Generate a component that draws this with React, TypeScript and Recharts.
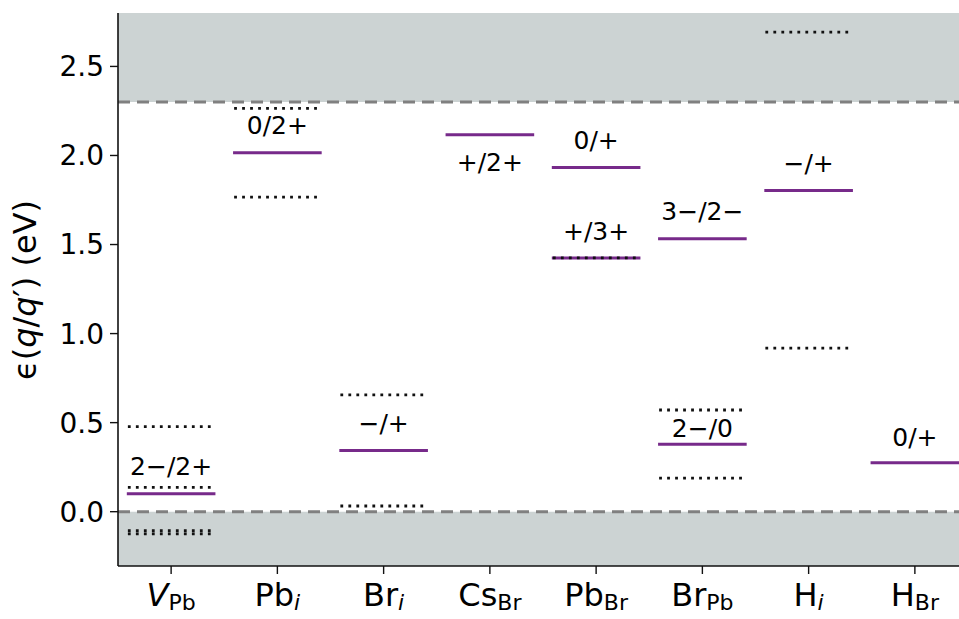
import { ComposedChart, XAxis, YAxis, ReferenceArea, ReferenceLine, ReferenceDot } from 'recharts';

// defect names, split into main symbol and subscript
const defectMain = ['V', 'Pb', 'Br', 'Cs', 'Pb', 'Br', 'H', 'H'];
const defectSub = ['Pb', 'i', 'i', 'Br', 'Br', 'Pb', 'i', 'Br'];
const mainItalic = [true, false, false, false, false, false, false, false];
const subItalic = [false, true, true, false, false, false, true, false];

// charge transition levels (eV) and their labels
const levelDefect = [0, 1, 2, 3, 4, 4, 5, 5, 6, 7];
const levelEnergy = [0.1, 2.015, 0.343, 2.116, 1.933, 1.425, 1.532, 0.379, 1.803, 0.275];
const levelLabel = ['2−/2+', '0/2+', '−/+', '+/2+', '0/+', '+/3+', '3−/2−', '2−/0', '−/+', '0/+'];
const labelEnergy = [0.253, 2.172, 0.497, 1.963, 2.084, 1.577, 1.685, 0.469, 1.957, 0.421];

// single-particle (dotted) levels
const ksDefect = [0, 0, 0, 0, 1, 1, 2, 2, 4, 5, 5, 6, 6];
const ksEnergy = [0.478, 0.137, -0.107, -0.125, 2.264, 1.766, 0.656, 0.032, 1.425, 0.571, 0.188, 2.693, 0.918];

const vbm = 0;
const cbm = 2.3;
const yTicks = [0, 0.5, 1.0, 1.5, 2.0, 2.5];
const yMin = -0.305;
const yMax = 2.8;

const FONT = 'DejaVu Sans';
const PURPLE = '#772a8a';
const HALF = 0.417;

const data = defectMain.map((d, i) => ({ x: i + 0.5, name: d + defectSub[i] }));

const DefectTick = (props: any) => {
  const { x, y, payload } = props;
  const i = Math.round(payload.value - 0.5);
  return (
    <text x={x} y={y + 30} textAnchor="middle" fontFamily={FONT} fontSize={32} fill="#000">
      <tspan fontStyle={mainItalic[i] ? 'italic' : 'normal'}>{defectMain[i]}</tspan>
      <tspan fontSize={22} dy={4} fontStyle={subItalic[i] ? 'italic' : 'normal'}>{defectSub[i]}</tspan>
    </text>
  );
};

const YLabel = () => (
  <text
    x={25}
    y={290}
    transform="rotate(-90 25 290)"
    textAnchor="middle"
    dominantBaseline="central"
    fontFamily={FONT}
    fontSize={32}
    fill="#000"
  >
    ϵ(<tspan fontStyle="italic">q</tspan>/<tspan fontStyle="italic">q</tspan>′) (eV)
  </text>
);

export default function App() {
  return (
    <div style={{ position: 'absolute', left: 0, top: 0, width: 959, height: 619, overflow: 'hidden', background: '#fff' }}>
      <ComposedChart width={976} height={619} data={data} margin={{ top: 13, right: 8, left: 0, bottom: 0 }}>
        <XAxis
          dataKey="x"
          type="number"
          domain={[0, 8]}
          ticks={data.map((d) => d.x)}
          allowDataOverflow
          height={53}
          tick={<DefectTick />}
          tickSize={8}
          axisLine={{ stroke: '#111', strokeWidth: 1.6 }}
          tickLine={{ stroke: '#111', strokeWidth: 1.4 }}
        />
        <XAxis xAxisId="top" orientation="top" type="number" domain={[0, 8]} height={0} tick={false} tickLine={false} axisLine={{ stroke: '#111', strokeWidth: 1.6 }} />
        <YAxis
          type="number"
          domain={[yMin, yMax]}
          ticks={yTicks}
          allowDataOverflow
          width={118}
          tickFormatter={(v: number) => v.toFixed(1)}
          tick={{ fontFamily: FONT, fontSize: 28, fill: '#000' }}
          tickSize={8}
          tickMargin={6}
          axisLine={{ stroke: '#111', strokeWidth: 1.6 }}
          tickLine={{ stroke: '#111', strokeWidth: 1.4 }}
          label={<YLabel />}
        />
        <ReferenceArea y1={cbm} y2={yMax} fill="#ccd3d3" fillOpacity={1} stroke="none" ifOverflow="hidden" />
        <ReferenceArea y1={yMin} y2={vbm} fill="#ccd3d3" fillOpacity={1} stroke="none" ifOverflow="hidden" />
        <ReferenceLine y={cbm} stroke="#808080" strokeWidth={3} strokeDasharray="12 7" />
        <ReferenceLine y={vbm} stroke="#808080" strokeWidth={3} strokeDasharray="12 7" />
        {levelEnergy.map((e, k) => (
          <ReferenceLine
            key={'lv' + k}
            segment={[
              { x: levelDefect[k] + 0.5 - HALF, y: e },
              { x: levelDefect[k] + 0.5 + HALF, y: e },
            ]}
            stroke={PURPLE}
            strokeWidth={3}
            ifOverflow="visible"
          />
        ))}
        {ksEnergy.map((e, k) => (
          <ReferenceLine
            key={'ks' + k}
            segment={[
              { x: ksDefect[k] + 0.5 - HALF + 0.01, y: e },
              { x: ksDefect[k] + 0.5 + HALF - 0.01, y: e },
            ]}
            stroke="#111"
            strokeWidth={2.8}
            strokeDasharray="2.8 5.2"
            ifOverflow="visible"
          />
        ))}
        {labelEnergy.map((e, k) => (
          <ReferenceDot
            key={'lb' + k}
            x={levelDefect[k] + 0.5}
            y={e}
            r={0}
            shape={() => <g />}
            ifOverflow="visible"
            label={{ value: levelLabel[k], position: 'center', fontSize: 25, fontFamily: FONT, fill: '#000' }}
          />
        ))}
      </ComposedChart>
    </div>
  );
}
